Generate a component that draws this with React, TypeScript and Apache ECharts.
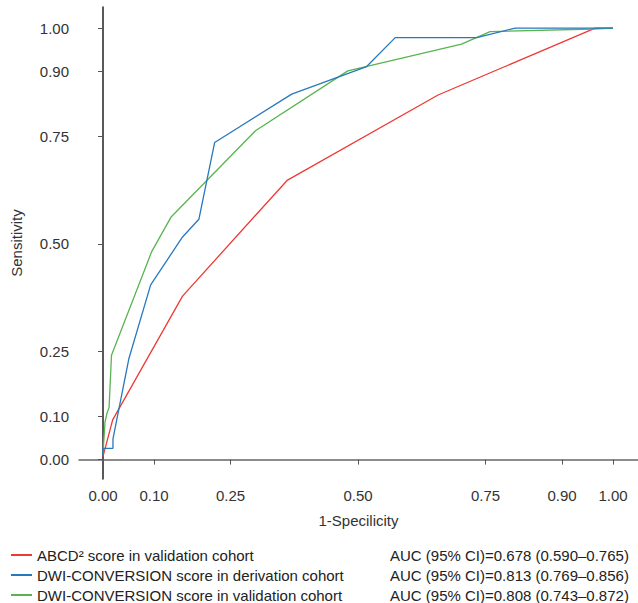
import React, { useEffect, useRef } from "react";
import * as echarts from "echarts";

const tickValues = [0, 0.1, 0.25, 0.5, 0.75, 0.9, 1.0];

const seriesNames = [
  "ABCD² score in validation cohort",
  "DWI-CONVERSION score in derivation cohort",
  "DWI-CONVERSION score in validation cohort",
];
const aucTexts = [
  "AUC (95% CI)=0.678 (0.590–0.765)",
  "AUC (95% CI)=0.813 (0.769–0.856)",
  "AUC (95% CI)=0.808 (0.743–0.872)",
];
const seriesColors = ["#ee3a35", "#2878bd", "#58b450"];

const abcdFpr = [0, 0.019, 0.156, 0.361, 0.657, 0.965, 1.0];
const abcdTpr = [0.007, 0.092, 0.379, 0.647, 0.845, 1.0, 1.0];

const derivFpr = [0, 0, 0.0196, 0.0196, 0.0506, 0.0935, 0.156, 0.188, 0.219, 0.37, 0.517, 0.573, 0.733, 0.808, 1.0];
const derivTpr = [0.009, 0.026, 0.026, 0.048, 0.233, 0.405, 0.516, 0.557, 0.735, 0.847, 0.911, 0.978, 0.978, 1.0, 1.0];

const validFpr = [0, 0.004, 0.008, 0.012, 0.0167, 0.0955, 0.134, 0.299, 0.48, 0.703, 0.759, 0.961, 1.0];
const validTpr = [0.013, 0.087, 0.108, 0.121, 0.242, 0.482, 0.563, 0.762, 0.901, 0.963, 0.992, 0.998, 1.0];

const FONT = "'Liberation Sans', Arial, sans-serif";

function pairs(xs: number[], ys: number[]) {
  return xs.map((x, i) => [x, ys[i]]);
}

export default function App() {
  const ref = useRef<HTMLDivElement>(null);
  useEffect(() => {
    if (!ref.current) return;
    const chart = echarts.init(ref.current, undefined, { renderer: "svg" });
    const datasets = [pairs(abcdFpr, abcdTpr), pairs(derivFpr, derivTpr), pairs(validFpr, validTpr)];
    const aucMap: Record<string, string> = {};
    seriesNames.forEach((n, i) => (aucMap[n] = aucTexts[i]));
    const axisCommon = {
      type: "value" as const,
      splitLine: { show: false },
      axisTick: { show: true, length: 5, customValues: tickValues, lineStyle: { color: "#555", width: 1 } },
      axisLabel: {
        customValues: tickValues,
        formatter: (v: number) => v.toFixed(2),
        color: "#333",
        fontSize: 15,
        fontFamily: FONT,
      },
      nameLocation: "middle" as const,
      nameTextStyle: { color: "#333", fontSize: 15, fontFamily: FONT },
    };
    chart.setOption({
      animation: false,
      backgroundColor: "#fff",
      grid: { left: 79, right: 0, top: 7, bottom: 124, containLabel: false },
      xAxis: {
        ...axisCommon,
        min: -0.047,
        max: 1.049,
        name: "1-Specilicity",
        nameGap: 34,
        axisLine: { show: true, lineStyle: { color: "#666", width: 1.5 } },
        axisLabel: { ...axisCommon.axisLabel, margin: 9 },
      },
      yAxis: {
        ...axisCommon,
        min: -0.045,
        max: 1.049,
        name: "Sensitivity",
        nameGap: 55,
        axisLine: { show: true, lineStyle: { color: "#222", width: 1.5 } },
        axisLabel: { ...axisCommon.axisLabel, margin: 10 },
      },
      legend: {
        orient: "vertical",
        left: 11,
        top: 547,
        padding: 0,
        itemWidth: 21,
        itemHeight: 2,
        itemGap: 4,
        icon: "rect",
        data: seriesNames,
        formatter: (name: string) => `{n|${name}}{a|${aucMap[name]}}`,
        textStyle: {
          color: "#222",
          fontSize: 15,
          fontFamily: FONT,
          lineHeight: 16,
          rich: {
            n: { width: 353, fontSize: 15, fontFamily: FONT, color: "#222", lineHeight: 16 },
            a: { fontSize: 15, fontFamily: FONT, color: "#222", lineHeight: 16 },
          },
        },
      },
      series: seriesNames.map((name, i) => ({
        name,
        type: "line",
        data: datasets[i],
        showSymbol: false,
        symbol: "none",
        smooth: false,
        color: seriesColors[i],
        lineStyle: { color: seriesColors[i], width: 1.3 },
        z: i === 1 ? 4 : 3,
      })),
    });
    return () => chart.dispose();
  }, []);
  return <div ref={ref} style={{ width: 638, height: 603, position: "absolute", left: 0, top: 0 }} />;
}
